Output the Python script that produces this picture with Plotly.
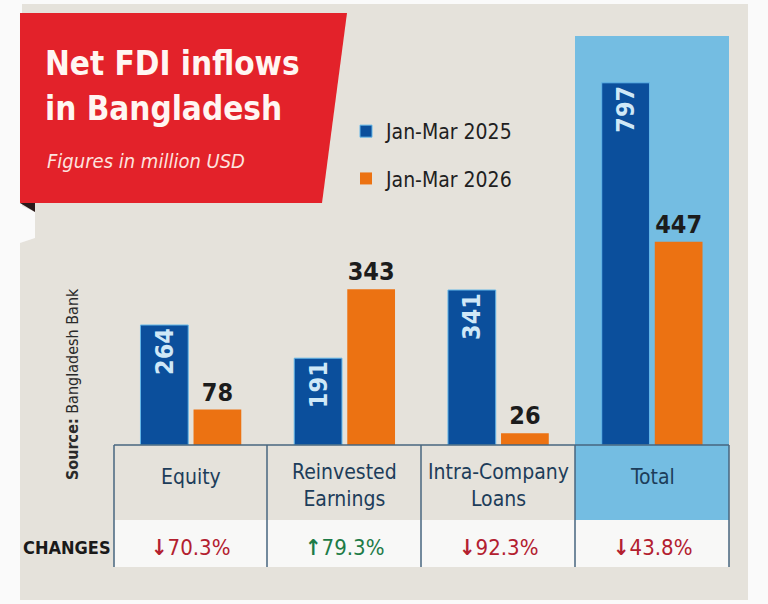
import plotly.graph_objects as go

# ---------------- data ----------------
categories = ["Equity", "Reinvested Earnings", "Intra-Company Loans", "Total"]
category_labels = ["Equity", "Reinvested<br>Earnings", "Intra-Company<br>Loans", "Total"]
series_names = ["Jan-Mar 2025", "Jan-Mar 2026"]
values_2025 = [264, 191, 341, 797]
values_2026 = [78, 343, 26, 447]
change_dirs = ["down", "up", "down", "down"]
change_pcts = ["70.3%", "79.3%", "92.3%", "43.8%"]
title_lines = ["Net FDI inflows", "in Bangladesh"]
subtitle = "Figures in million USD"

# ---------------- style ----------------
W, H = 768, 604
FONT = "DejaVu Sans Condensed, Roboto, sans-serif"
BLUE = "#0b4f9c"
ORANGE = "#ec7212"
CARD = "#e5e2db"
RED = "#e3222a"
HILITE = "#74bde2"
NAVY = "#1d3d5a"
LINE = "#47667f"


def px(x):
    return x / W


def py(y):
    return 1 - y / H


def path(points):
    return "M" + " L".join(f"{px(x):.5f},{py(y):.5f}" for x, y in points) + " Z"


fig = go.Figure()
fig.add_trace(go.Bar(
    x=categories, y=values_2025, name=series_names[0],
    marker=dict(color=BLUE, line=dict(color="#63b6e8", width=1)),
    text=values_2025, textposition="inside", insidetextanchor="end",
    textangle=-90, constraintext="none",
    textfont=dict(family=FONT, size=25, color="#cfe8f7", weight="bold"),
    legendgroup="a", cliponaxis=False,
))
fig.add_trace(go.Bar(
    x=categories, y=values_2026, name=series_names[1],
    marker=dict(color=ORANGE, line=dict(width=0)),
    text=values_2026, textposition="outside", textangle=0, constraintext="none",
    textfont=dict(family=FONT, size=25, color="#1c1c1c", weight="bold"),
    legendgroup="b", cliponaxis=False,
))

P = dict(xref="paper", yref="paper")
shapes = [
    # card
    dict(type="path", path=path([(22, 4), (748, 4), (748, 600), (20, 600), (20, 243),
                                 (35, 238), (35, 212), (22, 206)]),
         fillcolor=CARD, line=dict(width=0), layer="below", **P),
    # highlight for total
    dict(type="rect", x0=px(575), x1=px(729), y0=py(520), y1=py(36),
         fillcolor=HILITE, line=dict(width=0), layer="below", **P),
    # white changes row
    dict(type="rect", x0=px(114), x1=px(729), y0=py(567), y1=py(520),
         fillcolor="#f8f8f7", line=dict(width=0), layer="below", **P),
    # red banner
    dict(type="path", path=path([(20, 13), (347, 13), (322, 203), (20, 203)]),
         fillcolor=RED, line=dict(width=0), layer="below", **P),
    dict(type="path", path=path([(20, 203), (35, 203), (35, 212)]),
         fillcolor="#2a1a1a", line=dict(width=0), layer="below", **P),
    # table lines
    dict(type="line", x0=px(114), x1=px(729), y0=py(445), y1=py(445),
         line=dict(color=LINE, width=1.5), **P),
]
for xl in [114, 267, 421, 575, 729]:
    shapes.append(dict(type="line", x0=px(xl), x1=px(xl), y0=py(445), y1=py(567),
                       line=dict(color=LINE, width=1.5), **P))

annotations = [
    dict(text=f"<b>{title_lines[0]}</b>", x=px(43), y=py(63),
         xanchor="left", yanchor="middle", align="left",
         showarrow=False, font=dict(family=FONT, size=33, color="#fff6f2"), **P),
    dict(text=f"<b>{title_lines[1]}</b>", x=px(43), y=py(109),
         xanchor="left", yanchor="middle", align="left",
         showarrow=False, font=dict(family=FONT, size=33, color="#fff6f2"), **P),
    dict(text=f"<i>{subtitle}</i>", x=px(45), y=py(161),
         xanchor="left", yanchor="middle",
         showarrow=False, font=dict(family=FONT, size=20, color="#fde3df"), **P),
    dict(text="<b>CHANGES</b>", x=px(67), y=py(547),
         xanchor="center", yanchor="middle", showarrow=False,
         font=dict(family=FONT, size=18, color="#1a1a1a"), **P),
    dict(text="<b>Source:</b> Bangladesh Bank", x=px(72), y=py(384),
         textangle=-90, showarrow=False, xanchor="center", yanchor="middle",
         font=dict(family=FONT, size=16, color="#2a2a2a"), **P),
]
for cat, lab in zip(categories, category_labels):
    yy = 485 if "<br>" in lab else 477
    annotations.append(dict(text=lab, x=cat, xref="x", y=py(yy), yref="paper",
                            xanchor="center", yanchor="middle", showarrow=False,
                            font=dict(family=FONT, size=21, color=NAVY)))
for cat, d, p in zip(categories, change_dirs, change_pcts):
    arrow = "↑" if d == "up" else "↓"
    col = "#1e7b47" if d == "up" else "#b3202f"
    annotations.append(dict(text=f"<b>{arrow}</b>{p}", x=cat, xref="x", y=py(547), yref="paper",
                            xanchor="center", yanchor="middle", showarrow=False,
                            font=dict(family=FONT, size=22, color=col)))

fig.update_layout(
    width=W, height=H, autosize=False,
    margin=dict(l=0, r=0, t=0, b=0, pad=0),
    paper_bgcolor="#fafafa", plot_bgcolor="rgba(0,0,0,0)",
    barmode="group", bargap=0.31, bargroupgap=0.1,
    xaxis=dict(domain=[px(114), px(729)], range=[-0.5, 3.5], visible=False,
               type="category"),
    yaxis=dict(domain=[py(445), py(36)], range=[0, 900], visible=False),
    showlegend=True,
    legend=dict(x=px(346), y=py(111), xanchor="left", yanchor="top",
                bgcolor="rgba(0,0,0,0)", font=dict(family=FONT, size=21, color="#1f1f1f"),
                tracegroupgap=17, traceorder="grouped", itemclick=False),
    shapes=shapes, annotations=annotations,
    font=dict(family=FONT),
)

fig.write_html("out.html")
